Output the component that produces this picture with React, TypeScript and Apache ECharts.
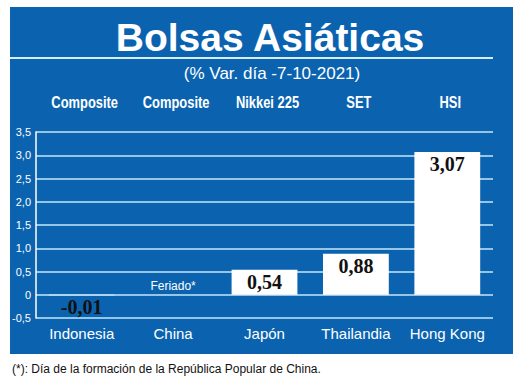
import React, { useEffect, useRef } from "react";
import * as echarts from "echarts";

const countries = ["Indonesia", "China", "Japón", "Thailandia", "Hong Kong"];
const indices = ["Composite", "Composite", "Nikkei 225", "SET", "HSI"];
const changes: (number | null)[] = [-0.01, null, 0.54, 0.88, 3.07];
const notes: (string | null)[] = [null, "Feriado*", null, null, null];
const yMin = -0.5;
const yMax = 3.5;
const yStep = 0.5;

const title = "Bolsas Asiáticas";
const subtitle = "(% Var. día -7-10-2021)";
const footnote = "(*): Día de la formación de la República Popular de China.";

const BLUE = "#0b63b0";
const GRID = "#c6e7f7";
const SANS = "'Liberation Sans', Arial, sans-serif";

const fmt = (v: number) => (v === 0 ? "0" : v.toFixed(1).replace(".", ","));

export default function App() {
  const ref = useRef<HTMLDivElement>(null);
  useEffect(() => {
    if (!ref.current) return;
    const chart = echarts.init(ref.current, null, { renderer: "svg" });
    const data = changes.map((v, i) =>
      v === null
        ? {
            value: 0,
            label: {
              show: true,
              position: "top",
              distance: 3,
              formatter: notes[i] || "",
              color: "#ffffff",
              fontFamily: SANS,
              fontWeight: "normal",
              fontSize: 12,
            },
          }
        : { value: v }
    );
    const baseGraphic: any[] = [
      { type: "rect", z: -10, shape: { x: 10, y: 7, width: 503, height: 347 }, style: { fill: BLUE } },
      { type: "line", z: -5, shape: { x1: 10, y1: 58, x2: 493, y2: 58 }, style: { stroke: "#d6eef9", lineWidth: 2 } },
      {
        type: "text",
        x: 270,
        y: 37,
        style: { text: title, fill: "#ffffff", font: `bold 39px ${SANS}`, align: "center", verticalAlign: "middle" },
      },
      {
        type: "text",
        x: 272,
        y: 73,
        style: { text: subtitle, fill: "#ffffff", font: `17px ${SANS}`, align: "center", verticalAlign: "middle" },
      },
      {
        type: "text",
        x: 12,
        y: 369,
        style: { text: footnote, fill: "#111111", font: `12px ${SANS}`, align: "left", verticalAlign: "middle" },
      },
    ];
    chart.setOption({
      animation: false,
      backgroundColor: "#ffffff",
      graphic: baseGraphic,
      grid: { left: 36, right: 27, top: 132, bottom: 59, containLabel: false },
      xAxis: [
        {
          type: "category",
          data: countries,
          position: "bottom",
          axisLine: { show: false, onZero: false },
          axisTick: { show: false },
          axisLabel: { color: "#ffffff", fontFamily: SANS, fontSize: 15, margin: 8, interval: 0 },
        },
      ],
      yAxis: {
        type: "value",
        min: yMin,
        max: yMax,
        interval: yStep,
        axisLine: { show: true, lineStyle: { color: "#ffffff", width: 1.5 } },
        axisTick: { show: false },
        splitLine: { show: true, lineStyle: { color: GRID, width: 1.6 } },
        axisLabel: { color: "#ffffff", fontFamily: SANS, fontSize: 11, margin: 5, formatter: fmt },
      },
      series: [
        {
          type: "bar",
          data,
          barWidth: "72%",
          itemStyle: { color: "#ffffff" },
          label: {
            show: true,
            position: "insideTop",
            distance: 2,
            color: "#111111",
            fontFamily: "'Liberation Serif', 'Times New Roman', serif",
            fontWeight: "bold",
            fontSize: 20,
            formatter: (p: any) => Number(p.value).toFixed(2).replace(".", ","),
          },
        },
      ],
    });
    // index names above each category, placed through the category axis scale
    const idxTexts = indices.map((name, i) => {
      const x = chart.convertToPixel({ xAxisIndex: 0 }, countries[i]) as number;
      return {
        type: "text",
        x: x + 3,
        y: 102,
        scaleX: 0.76,
        style: { text: name, fill: "#ffffff", font: `bold 17px ${SANS}`, align: "center", verticalAlign: "middle" },
      };
    });
    chart.setOption({ graphic: [...baseGraphic, ...idxTexts] });
    return () => chart.dispose();
  }, []);
  return <div ref={ref} style={{ position: "fixed", left: 0, top: 0, width: 520, height: 377 }} />;
}
